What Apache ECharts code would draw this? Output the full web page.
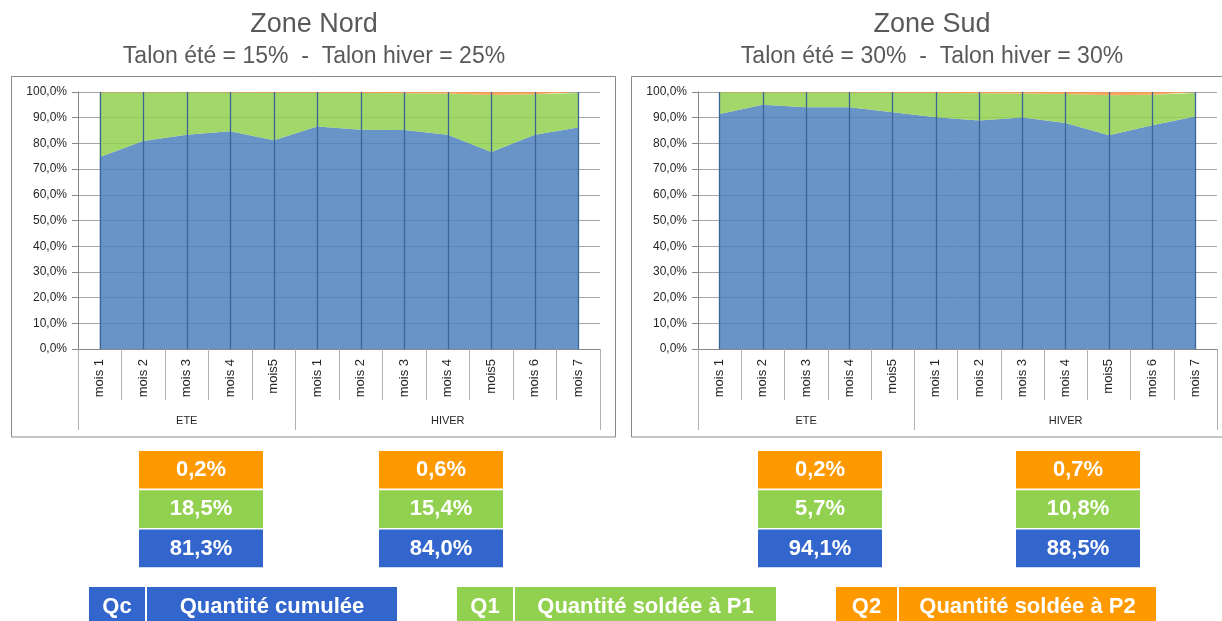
<!DOCTYPE html>
<html><head><meta charset="utf-8">
<script src="https://cdn.jsdelivr.net/npm/echarts@6/dist/echarts.min.js"></script>
<style>html,body{margin:0;padding:0;background:#fff}#c{width:1222px;height:621px}</style>
</head><body><div id="c"></div>
<script>
// ---------- data ----------
const months  = ['mois 1','mois 2','mois 3','mois 4','mois5','mois 1','mois 2','mois 3','mois 4','mois5','mois 6','mois 7'];
const seasons = ['ETE','ETE','ETE','ETE','ETE','HIVER','HIVER','HIVER','HIVER','HIVER','HIVER','HIVER'];
const yTicks  = [0,10,20,30,40,50,60,70,80,90,100];

const nordQc = [74.7, 80.9, 83.4, 84.7, 81.2, 86.6, 85.3, 85.2, 83.4, 76.7, 83.4, 86.2];
const nordQ1 = [25.1, 18.9, 16.5, 15.1, 18.5, 13.1, 14.3, 14.3, 16.0, 22.1, 15.7, 13.4];
const nordQ2 = [0.2, 0.2, 0.1, 0.2, 0.3, 0.3, 0.4, 0.5, 0.6, 1.2, 0.9, 0.4];

const sudQc = [91.4, 95.0, 94.1, 94.1, 92.1, 90.2, 88.9, 90.1, 87.9, 83.2, 87.1, 90.5];
const sudQ1 = [8.5, 4.8, 5.7, 5.7, 7.6, 9.4, 10.6, 9.3, 11.3, 15.5, 11.8, 9.1];
const sudQ2 = [0.1, 0.2, 0.2, 0.2, 0.3, 0.4, 0.5, 0.6, 0.8, 1.3, 1.1, 0.4];

// summary per season: [Q2, Q1, Qc]
const nordSummary = [[0.2, 18.5, 81.3], [0.6, 15.4, 84.0]];
const sudSummary  = [[0.2, 5.7, 94.1], [0.7, 10.8, 88.5]];

const titles    = ['Zone Nord', 'Zone Sud'];
const subtitles = ['Talon été = 15%  -  Talon hiver = 25%', 'Talon été = 30%  -  Talon hiver = 30%'];
const legendCodes  = ['Qc', 'Q1', 'Q2'];
const legendLabels = ['Quantité cumulée', 'Quantité soldée à P1', 'Quantité soldée à P2'];

// ---------- styling ----------
const FONT = 'Liberation Sans, Arial, sans-serif';
const areaColors = ['#4F81BD', '#92D050', '#F79646'];
const boxColors  = ['#FF9900', '#92D050', '#3366CC'];
const legendColors = ['#3366CC', '#92D050', '#FF9900'];
const keys = months.map((m, i) => seasons[i] + '|' + m);
const fmtPct = v => v.toFixed(1).replace('.', ',') + '%';

// group starts and centers (index of the middle category of each season)
const groupStart = [], groupCenters = {};
seasons.forEach((s, i) => { if (i === 0 || s !== seasons[i - 1]) groupStart.push(i); });
groupStart.forEach((st, g) => {
  const en = g + 1 < groupStart.length ? groupStart[g + 1] - 1 : seasons.length - 1;
  groupCenters[Math.round((st + en) / 2)] = seasons[st];
});

const grids = [
  { left: 78, top: 92, width: 522, height: 257 },
  { left: 698, top: 92, width: 519, height: 257 }
];

const xAxes = [], yAxes = [], series = [];
const sets = [[nordQc, nordQ1, nordQ2], [sudQc, sudQ1, sudQ2]];
grids.forEach((g, gi) => {
  xAxes.push({
    type: 'category', gridIndex: gi, data: keys, boundaryGap: true,
    axisLine: { show: true, lineStyle: { color: '#868686', width: 1 } },
    axisTick: { show: true, interval: 0, length: 51, lineStyle: { color: '#b0b0b0' } },
    axisLabel: { interval: 0, rotate: 90, margin: 10, fontSize: 13, color: '#262626', fontFamily: FONT,
      formatter: v => v.split('|')[1] },
    splitLine: { show: false }
  });
  xAxes.push({
    type: 'category', gridIndex: gi, data: keys, boundaryGap: true, position: 'bottom',
    axisLine: { show: false },
    axisTick: { show: true, length: 81, interval: (i) => groupStart.indexOf(i) >= 0, lineStyle: { color: '#b0b0b0' } },
    axisLabel: { interval: (i) => groupCenters[i] !== undefined, margin: 66, fontSize: 11, color: '#262626', fontFamily: FONT,
      formatter: (v) => v.split('|')[0] },
    splitLine: { show: false }
  });
  yAxes.push({
    type: 'value', gridIndex: gi, min: yTicks[0], max: yTicks[yTicks.length - 1], interval: yTicks[1] - yTicks[0],
    axisLine: { show: true, lineStyle: { color: '#868686' } },
    axisTick: { show: true, length: 6, lineStyle: { color: '#868686' } },
    axisLabel: { margin: 11, fontSize: 12, color: '#262626', fontFamily: FONT, formatter: v => fmtPct(v) },
    splitLine: { show: true, lineStyle: { color: '#a6a6a6', width: 1 } }
  });
  sets[gi].forEach((d, si) => {
    const s = {
      type: 'line', xAxisIndex: gi * 2, yAxisIndex: gi, stack: 'st' + gi, data: d,
      symbol: 'none', showSymbol: false, silent: true,
      lineStyle: { width: 0, opacity: 0 },
      areaStyle: { color: areaColors[si], opacity: 0.85 },
      z: 2
    };
    if (si === 0) {
      s.markLine = {
        silent: true, symbol: ['none', 'none'], label: { show: false },
        lineStyle: { color: '#3d6496', width: 1.3, type: 'solid' },
        data: keys.map((k, i) => ({ xAxis: i })),
        z: 5
      };
    }
    series.push(s);
  });
});

// ---------- graphics ----------
const graphic = [];
// chart frames
graphic.push({ type: 'rect', shape: { x: 11.5, y: 76.5, width: 604, height: 360.5 }, style: { fill: 'none', stroke: '#8a8a8a', lineWidth: 1 }, z: -1 });
graphic.push({ type: 'rect', shape: { x: 631.5, y: 76.5, width: 620, height: 360.5 }, style: { fill: 'none', stroke: '#8a8a8a', lineWidth: 1 }, z: -1 });
// titles
const titleCenters = [314, 932];
titles.forEach((t, i) => {
  graphic.push({ type: 'text', x: titleCenters[i], y: 25, style: { text: t, fill: '#595959', font: '27px ' + FONT, textAlign: 'center', textVerticalAlign: 'middle' } });
  graphic.push({ type: 'text', x: titleCenters[i], y: 57, style: { text: subtitles[i], fill: '#595959', font: '23px ' + FONT, textAlign: 'center', textVerticalAlign: 'middle' } });
});
// summary boxes
const summaryLefts = [[139, 379], [758, 1016]];
const rowTops = [451, 490.3, 529.6];
[nordSummary, sudSummary].forEach((zone, zi) => {
  zone.forEach((vals, gi) => {
    vals.forEach((v, ri) => {
      const x = summaryLefts[zi][gi], y = rowTops[ri];
      graphic.push({ type: 'rect', shape: { x: x, y: y, width: 124, height: 37.6 }, style: { fill: boxColors[ri] } });
      graphic.push({ type: 'text', x: x + 62, y: y + 19, style: { text: fmtPct(v), fill: '#ffffff', font: 'bold 22px ' + FONT, textAlign: 'center', textVerticalAlign: 'middle' } });
    });
  });
});
// legend
const legendBoxes = [[89, 146, 397], [457, 514, 776], [836, 898, 1156]];
legendCodes.forEach((c, i) => {
  const [x0, xd, x1] = legendBoxes[i];
  graphic.push({ type: 'rect', shape: { x: x0, y: 587, width: x1 - x0, height: 40 }, style: { fill: legendColors[i] } });
  graphic.push({ type: 'rect', shape: { x: xd - 1, y: 587, width: 2, height: 40 }, style: { fill: '#ffffff' } });
  graphic.push({ type: 'text', x: (x0 + xd - 1) / 2, y: 607, style: { text: c, fill: '#ffffff', font: 'bold 22px ' + FONT, textAlign: 'center', textVerticalAlign: 'middle' } });
  graphic.push({ type: 'text', x: (xd + 1 + x1) / 2, y: 607, style: { text: legendLabels[i], fill: '#ffffff', font: 'bold 22px ' + FONT, textAlign: 'center', textVerticalAlign: 'middle' } });
});

const chart = echarts.init(document.getElementById('c'), null, { renderer: 'canvas' });
chart.setOption({
  animation: false,
  backgroundColor: '#ffffff',
  grid: grids,
  xAxis: xAxes,
  yAxis: yAxes,
  series: series,
  graphic: graphic
});
</script>
</body></html>
